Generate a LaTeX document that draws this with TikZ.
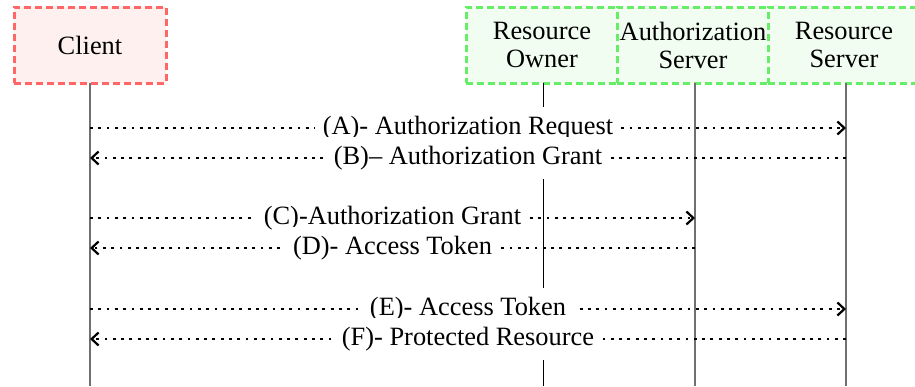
\documentclass[tikz,border=0pt]{standalone}
\usepackage{fontspec}
\setmainfont{Liberation Serif}
\usetikzlibrary{arrows.meta}
\definecolor{redline}{RGB}{255,102,102}
\definecolor{redfill}{RGB}{255,240,240}
\definecolor{greenline}{RGB}{102,238,102}
\definecolor{greenfill}{RGB}{240,253,240}
\definecolor{lifegray}{RGB}{112,112,112}
\begin{document}
\begin{tikzpicture}[x=0.5pt,y=-0.5pt,
  font=\fontsize{13.2pt}{14pt}\selectfont,
  actor/.style={minimum width=76pt,minimum height=38pt,inner sep=0pt,
    line width=1.5pt,dash pattern=on 3.5pt off 2pt,align=center},
  redactor/.style={actor,draw=redline,fill=redfill},
  greenactor/.style={actor,draw=greenline,fill=greenfill},
  lifeline/.style={draw=lifegray,line width=0.75pt},
  blackline/.style={draw=black,line width=0.5pt},
  msg/.style={line width=1.4pt,dash pattern=on 1.4pt off 2.75pt,
    -{Straight Barb[length=3.5pt,width=6.5pt,line width=1.1pt]}},
  lbl/.style={fill=white,inner xsep=4pt,inner ysep=4.5pt}]
\useasboundingbox (0,0) rectangle (915,386);
% actors
\node[redactor] (client) at (90,45) {Client};
\node[greenactor] (ro) at (542,45) {Resource\\Owner};
\node[greenactor] (as) at (693,45) {Authorization\\Server};
\node[greenactor] (rs) at (844,45) {Resource\\Server};
% lifeline ends
\coordinate (cTop) at (90,83);  \coordinate (cBot) at (90,386);
\coordinate (oTop) at (543,83); \coordinate (oBot) at (543,386);
\coordinate (aTop) at (695,83); \coordinate (aBot) at (695,386);
\coordinate (sTop) at (846,83); \coordinate (sBot) at (846,386);
\draw[lifeline] (cTop) -- (cBot);
\draw[blackline] (oTop) -- (oBot);
\draw[lifeline] (aTop) -- (aBot);
\draw[lifeline] (sTop) -- (sBot);
% message rows
\coordinate (rA) at (0,128);
\coordinate (rB) at (0,158);
\coordinate (rC) at (0,218);
\coordinate (rD) at (0,248);
\coordinate (rE) at (0,309);
\coordinate (rF) at (0,339);
\draw[msg] (cTop |- rA) -- node[lbl] {(A)- Authorization Request} (sTop |- rA);
\draw[msg] (sTop |- rB) -- node[lbl] {(B)\textendash\ Authorization Grant} (cTop |- rB);
\draw[msg] (cTop |- rC) -- node[lbl] {(C)-Authorization Grant} (aTop |- rC);
\draw[msg] (aTop |- rD) -- node[lbl] {(D)- Access Token} (cTop |- rD);
\draw[msg] (cTop |- rE) -- node[lbl] {(E)- Access Token} (sTop |- rE);
\draw[msg] (sTop |- rF) -- node[lbl] {(F)- Protected Resource} (cTop |- rF);
\end{tikzpicture}
\end{document}
